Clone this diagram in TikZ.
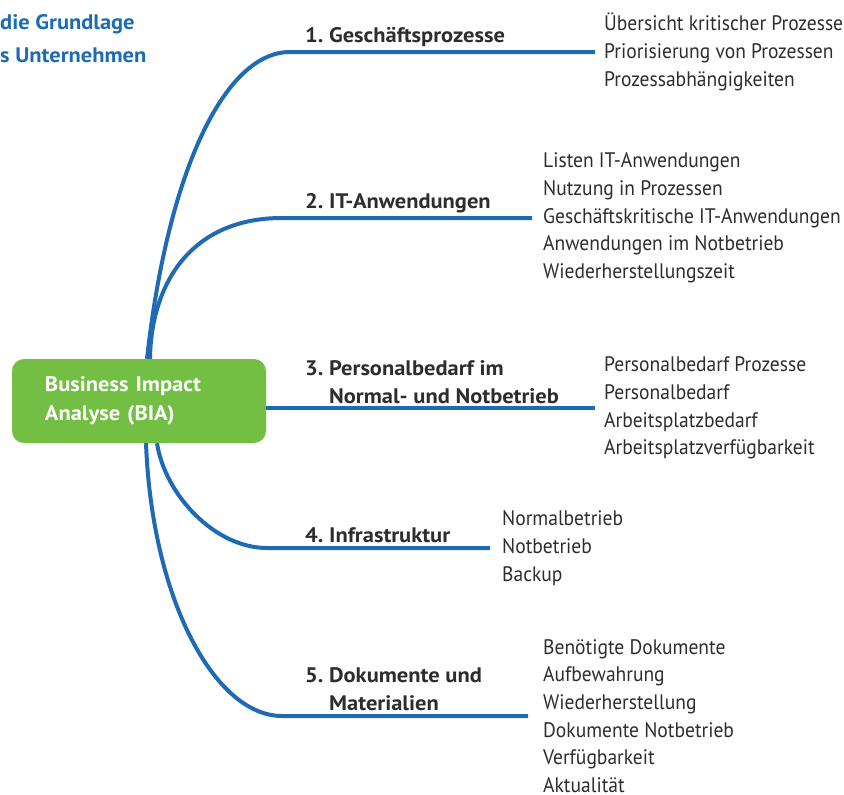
\documentclass[tikz,border=0pt]{standalone}
\usepackage{fontspec}
\setmainfont[FakeStretch=0.93]{PT Sans}
\newfontfamily\headfont[FakeStretch=1.07]{PT Sans}
\usetikzlibrary{positioning}
\definecolor{biablue}{RGB}{30,106,180}
\definecolor{biagreen}{RGB}{114,191,68}
\definecolor{biatext}{RGB}{45,45,45}
\tikzset{font=\fontsize{21}{27.7}\selectfont}
\tikzset{branch/.style={line width=4pt,draw=biablue}}
\tikzset{topic/.style={font=\fontsize{21}{28}\headfont\bfseries,text=biatext,align=left,inner sep=0pt,anchor=south west}}
\tikzset{items/.style={align=left,text=biatext,inner sep=0pt}}

\begin{document}
\begin{tikzpicture}[x=1pt,y=-1pt]
  \useasboundingbox (0,0) rectangle (844,795);
  \node[anchor=north west,inner sep=0pt,align=left,text=biablue,
    font=\fontsize{21}{33}\headfont\bfseries] (intro) at (0,14) {die Grundlage\\s Unternehmen};
  \node[fill=biagreen,rounded corners=12pt,minimum width=254pt,minimum height=84pt,
    text width=188pt,inner xsep=33pt,align=left,text=white,
    font=\fontsize{21}{29}\headfont\bfseries] (bia) at (139,401) {Business Impact\\Analyse (BIA)};
  % branches
  \coordinate (e1) at (595,52);
  \coordinate (e2) at (532,218);
  \coordinate (e3) at (595,408);
  \coordinate (e4) at (490,548);
  \coordinate (e5) at (528,716);
  \draw[branch] ([xshift=8pt]bia.north) .. controls (168,170) and (225,52) .. (290,52) -- (e1);
  \draw[branch] ([xshift=11pt]bia.north) .. controls (151,285) and (190,218) .. (282,218) -- (e2);
  \draw[branch] (bia.east |- e3) -- (e3);
  \draw[branch] ([xshift=18pt]bia.south) .. controls (165,495) and (215,548) .. (267,548) -- (e4);
  \draw[branch] ([xshift=7pt]bia.south) .. controls (152,600) and (215,716) .. (282,716) -- (e5);
  % topics
  \node[topic] (t1) at (305,47) {1.\ Geschäftsprozesse};
  \node[topic] (t2) at (305,213) {2.\ IT-Anwendungen};
  \node[topic] (t3) at (305,404) {3.\ Personalbedarf im\\\phantom{3.\ }Normal- und Notbetrieb};
  \node[topic] (t4) at (305,543) {4.\ Infrastruktur};
  \node[topic] (t5) at (305,711) {5.\ Dokumente und\\\phantom{5.\ }Materialien};
  % details
  \node[items,right=9pt of e1] (l1) {Übersicht kritischer Prozesse\\Priorisierung von Prozessen\\Prozessabhängigkeiten};
  \node[items,right=11pt of e2] (l2) {Listen IT-Anwendungen\\Nutzung in Prozessen\\Geschäftskritische IT-Anwendungen\\Anwendungen im Notbetrieb\\Wiederherstellungszeit};
  \node[items,right=9pt of e3] (l3) {Personalbedarf Prozesse\\Personalbedarf\\Arbeitsplatzbedarf\\Arbeitsplatzverfügbarkeit};
  \node[items,right=12pt of e4] (l4) {Normalbetrieb\\Notbetrieb\\Backup};
  \node[items,right=15pt of e5] (l5) {Benötigte Dokumente\\Aufbewahrung\\Wiederherstellung\\Dokumente Notbetrieb\\Verfügbarkeit\\Aktualität};
\end{tikzpicture}
\end{document}
